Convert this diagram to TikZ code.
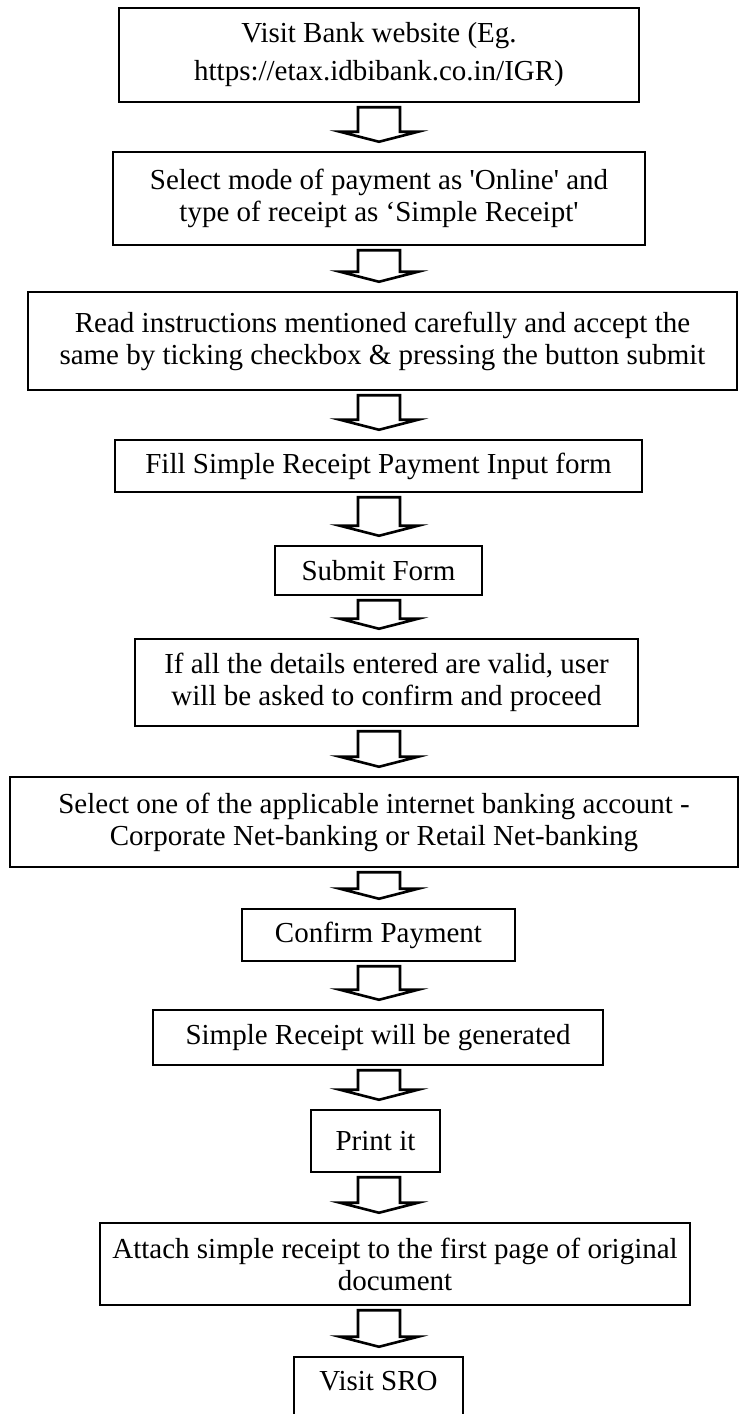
\documentclass[tikz,border=0pt]{standalone}
\usepackage{fontspec}
\setmainfont{Liberation Serif}
\usetikzlibrary{calc}
\newcommand\blockarrow[2]{%
  \draw[barrow] let \p1=(#1.south), \p2=(#2.north) in
    (358pt,\y1-4pt) -- (400pt,\y1-4pt) -- (400pt,\y2+19pt) -- (418pt,\y2+19pt)
    -- (379pt,\y2+9pt) -- (340pt,\y2+19pt) -- (358pt,\y2+19pt) -- cycle;}
\begin{document}
\begin{tikzpicture}[x=1pt,y=-1pt,
  box/.style={draw, line width=2.5pt, inner sep=0pt, align=center,
    font=\fontsize{29}{32}\selectfont},
  barrow/.style={draw, line width=2.6pt, line join=miter}]
\useasboundingbox (0,0) rectangle (740,1414);
\clip (0,0) rectangle (740,1414);
\node[box, minimum width=520pt, minimum height=94pt] (b1) at (379,55)
  {Visit Bank website (Eg.\\[6pt]https://etax.idbibank.co.in/IGR)};
\node[box, minimum width=532pt, minimum height=93pt] (b2) at (379,198.5)
  {Select mode of payment as \textquotesingle Online\textquotesingle{} and\\type of receipt as `Simple Receipt\textquotesingle};
\node[box, minimum width=709pt, minimum height=98pt] (b3) at (382.5,341)
  {Read instructions mentioned carefully and accept the\\same by ticking checkbox \& pressing the button submit};
\node[box, minimum width=527pt, minimum height=52pt] (b4) at (378.5,466)
  {Fill Simple Receipt Payment Input form};
\node[box, minimum width=207pt, minimum height=49pt] (b5) at (378.5,570.5)
  {Submit Form};
\node[box, minimum width=503pt, minimum height=87pt] (b6) at (386.5,682.5)
  {If all the details entered are valid, user\\will be asked to confirm and proceed};
\node[box, minimum width=728pt, minimum height=90pt] (b7) at (374,822)
  {Select one of the applicable internet banking account -\\Corporate Net-banking or Retail Net-banking};
\node[box, minimum width=273pt, minimum height=52pt] (b8) at (378.5,935)
  {Confirm Payment};
\node[box, minimum width=450pt, minimum height=55pt] (b9) at (378,1037.5)
  {Simple Receipt will be generated};
\node[box, minimum width=129pt, minimum height=62pt] (b10) at (375.5,1141)
  {Print it};
\node[box, minimum width=590pt, minimum height=82pt] (b11) at (395,1264)
  {Attach simple receipt to the first page of original\\document};
\node[box, minimum width=169pt, minimum height=66pt, text depth=18pt] (b12) at (378.5,1390)
  {Visit SRO};
\blockarrow{b1}{b2}
\blockarrow{b2}{b3}
\blockarrow{b3}{b4}
\blockarrow{b4}{b5}
\blockarrow{b5}{b6}
\blockarrow{b6}{b7}
\blockarrow{b7}{b8}
\blockarrow{b8}{b9}
\blockarrow{b9}{b10}
\blockarrow{b10}{b11}
\blockarrow{b11}{b12}
\end{tikzpicture}
\end{document}
